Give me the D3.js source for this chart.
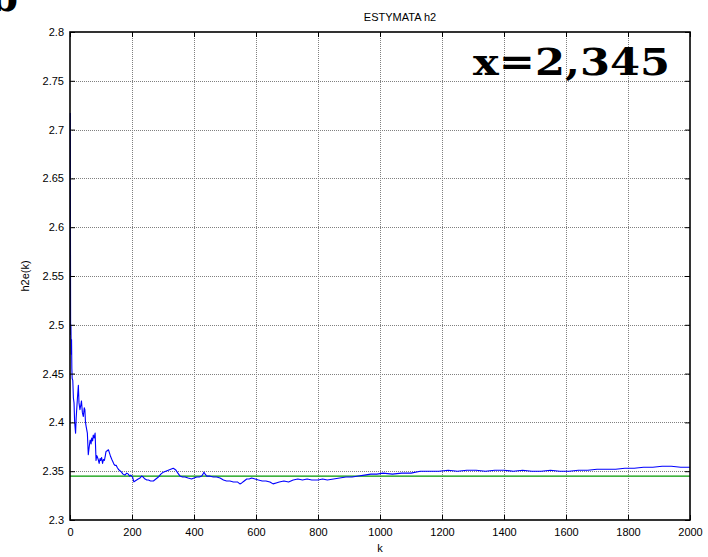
<!DOCTYPE html>
<html>
<head>
<meta charset="utf-8">
<script src="https://cdn.jsdelivr.net/npm/d3@7"></script>
<style>
  html, body { margin: 0; padding: 0; background: #fff; }
  svg { display: block; }
  .tick text { font-family: "Liberation Sans", Arial, sans-serif; font-size: 11px; fill: #000; }
</style>
</head>
<body>
<svg id="chart" width="708" height="557"></svg>
<script>
// Estimate h2e(k) over the iterations k
const kSteps = [1,2,3,4,5,6,7,9,11,13,15,18,20,21,24,27,29,32,35,37,40,43,46,48,50,52,56,59,62,65,68,70,73,75,78,81,84,86,88,91,94,97,99,102,105,108,111,114,116,120,124,127,131,135,138,142,145,149,152,156,159,163,166,171,177,183,188,192,196,202,206,210,215,220,226,231,236,242,248,253,260,269,277,285,293,301,309,317,325,333,338,342,348,355,363,371,381,392,400,409,417,425,429,432,436,441,450,462,473,484,495,505,516,527,540,548,554,562,570,578,586,597,608,620,632,645,655,665,675,690,705,720,735,750,765,780,800,815,830,850,870,890,910,930,950,970,990,1010,1040,1070,1100,1130,1160,1190,1220,1250,1280,1310,1340,1370,1400,1430,1460,1490,1520,1550,1580,1610,1640,1670,1700,1730,1760,1790,1820,1850,1880,1910,1940,1970,2000];
const h2Estimate = [2.717,2.49,2.50,2.47,2.485,2.455,2.445,2.443,2.425,2.42,2.40,2.389,2.405,2.41,2.425,2.438,2.42,2.413,2.418,2.422,2.41,2.406,2.415,2.413,2.40,2.396,2.389,2.367,2.375,2.382,2.378,2.384,2.381,2.387,2.384,2.389,2.361,2.366,2.365,2.362,2.358,2.363,2.361,2.364,2.358,2.362,2.361,2.366,2.370,2.371,2.372,2.369,2.365,2.362,2.360,2.357,2.356,2.356,2.354,2.352,2.351,2.350,2.349,2.347,2.346,2.348,2.347,2.345,2.346,2.344,2.339,2.340,2.341,2.342,2.343,2.345,2.344,2.342,2.341,2.341,2.340,2.340,2.342,2.344,2.347,2.349,2.350,2.351,2.352,2.353,2.352,2.351,2.348,2.345,2.344,2.344,2.343,2.342,2.343,2.344,2.344,2.345,2.347,2.349,2.347,2.345,2.345,2.344,2.344,2.343,2.341,2.340,2.340,2.339,2.339,2.337,2.338,2.340,2.342,2.342,2.343,2.342,2.341,2.340,2.340,2.339,2.337,2.338,2.339,2.340,2.339,2.341,2.342,2.341,2.342,2.341,2.341,2.342,2.341,2.342,2.343,2.344,2.344,2.345,2.346,2.347,2.347,2.348,2.347,2.348,2.348,2.350,2.350,2.350,2.351,2.350,2.351,2.351,2.350,2.351,2.351,2.350,2.351,2.350,2.350,2.351,2.350,2.350,2.351,2.351,2.352,2.352,2.352,2.353,2.353,2.354,2.354,2.355,2.355,2.354,2.354];

// True parameter value
const h2True = 2.345;

const xTicks = [0,200,400,600,800,1000,1200,1400,1600,1800,2000];
const yTicks = [2.3,2.35,2.4,2.45,2.5,2.55,2.6,2.65,2.7,2.75,2.8];

const svg = d3.select("#chart");
const plotLeft = 70, plotRight = 690, plotTop = 32, plotBottom = 520;

const x = d3.scaleLinear().domain([0, 2000]).range([plotLeft, plotRight]);
const y = d3.scaleLinear().domain([2.3, 2.8]).range([plotBottom, plotTop]);

// Dotted grid
const grid = svg.append("g").attr("stroke", "#808080").attr("stroke-width", 1).attr("stroke-dasharray", "1,1");
grid.selectAll("line.gx").data(xTicks.slice(1, -1)).join("line")
  .attr("x1", d => Math.round(x(d)) + 0.5).attr("x2", d => Math.round(x(d)) + 0.5)
  .attr("y1", plotTop).attr("y2", plotBottom);
grid.selectAll("line.gy").data(yTicks.slice(1, -1)).join("line")
  .attr("y1", d => Math.round(y(d)) + 0.5).attr("y2", d => Math.round(y(d)) + 0.5)
  .attr("x1", plotLeft).attr("x2", plotRight);

// Reference level and estimate
svg.append("line")
  .attr("x1", x(0)).attr("x2", x(2000))
  .attr("y1", y(h2True)).attr("y2", y(h2True))
  .attr("stroke", "#009900").attr("stroke-width", 1.3);

const line = d3.line().x((d, i) => x(kSteps[i])).y(d => y(d));
svg.append("path")
  .datum(h2Estimate)
  .attr("d", line)
  .attr("fill", "none")
  .attr("stroke", "#0000ff")
  .attr("stroke-width", 1.1)
  .attr("stroke-linejoin", "round");

// Axes with inward ticks on all four sides
const tickLen = 5;
svg.append("g").attr("transform", `translate(0,${plotBottom})`)
  .call(d3.axisBottom(x).tickValues(xTicks).tickFormat(d3.format("d")).tickSizeInner(-tickLen).tickSizeOuter(0).tickPadding(8))
  .call(g => g.select(".domain").remove());
svg.append("g").attr("transform", `translate(0,${plotTop})`)
  .call(d3.axisTop(x).tickValues(xTicks).tickFormat("").tickSizeInner(-tickLen).tickSizeOuter(0))
  .call(g => g.select(".domain").remove());
svg.append("g").attr("transform", `translate(${plotLeft},0)`)
  .call(d3.axisLeft(y).tickValues(yTicks).tickFormat(d => String(+d.toFixed(2))).tickSizeInner(-tickLen).tickSizeOuter(0).tickPadding(6))
  .call(g => g.select(".domain").remove());
svg.append("g").attr("transform", `translate(${plotRight},0)`)
  .call(d3.axisRight(y).tickValues(yTicks).tickFormat("").tickSizeInner(-tickLen).tickSizeOuter(0))
  .call(g => g.select(".domain").remove());
svg.selectAll(".tick line").attr("stroke", "#000").attr("stroke-width", 1);

// Box
svg.append("rect")
  .attr("x", plotLeft).attr("y", plotTop).attr("width", plotRight - plotLeft).attr("height", plotBottom - plotTop)
  .attr("fill", "none").attr("stroke", "#000").attr("stroke-width", 1.6);

// Labels
const sans = "'Liberation Sans', Arial, sans-serif";
svg.append("text").attr("x", 400).attr("y", 21).attr("text-anchor", "middle")
  .attr("font-family", sans).attr("font-size", 11).text("ESTYMATA h2");
svg.append("text").attr("x", 380).attr("y", 552).attr("text-anchor", "middle")
  .attr("font-family", sans).attr("font-size", 11).text("k");
svg.append("text").attr("transform", `translate(29,${(plotTop + plotBottom) / 2}) rotate(-90)`)
  .attr("text-anchor", "middle").attr("font-family", sans).attr("font-size", 11).text("h2e(k)");

svg.append("text").attr("x", 473).attr("y", 75)
  .attr("font-family", "'DejaVu Serif', serif").attr("font-weight", "bold").attr("font-size", 38)
  .attr("textLength", 197).attr("lengthAdjust", "spacingAndGlyphs")
  .text("x=2,345");

svg.append("text").attr("x", -10).attr("y", 11)
  .attr("font-family", "'DejaVu Serif', serif").attr("font-weight", "bold").attr("font-size", 40)
  .text("b");
</script>
</body>
</html>
